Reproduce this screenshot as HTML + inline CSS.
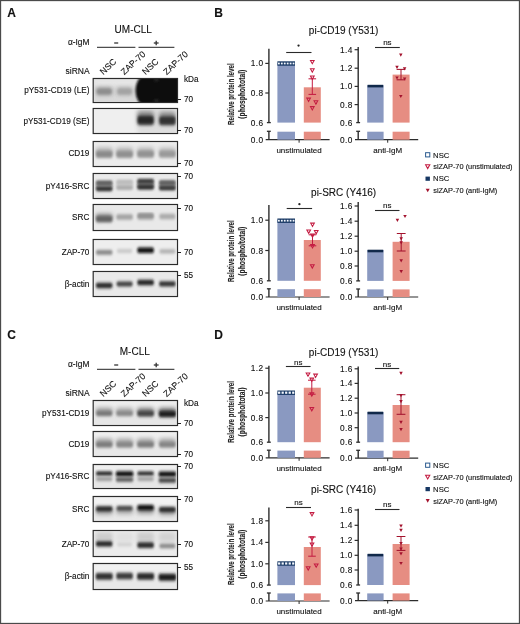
<!DOCTYPE html><html><head><meta charset="utf-8"><style>html,body{margin:0;padding:0;background:#fff;}body{width:520px;height:624px;overflow:hidden;font-family:"Liberation Sans",sans-serif;}svg{display:block;filter:blur(0.25px);}text{opacity:0.999;stroke:#111;stroke-width:0.12px;paint-order:stroke}</style></head><body><svg width="520" height="624" viewBox="0 0 520 624" font-family="Liberation Sans, sans-serif">
<defs><filter id="blur" x="-20%" y="-60%" width="140%" height="220%"><feGaussianBlur stdDeviation="0.9 1.4"/></filter><filter id="blur2" x="-50%" y="-80%" width="200%" height="260%"><feGaussianBlur stdDeviation="2.0"/></filter></defs>
<rect x="0" y="0" width="520" height="624" fill="#fff"/>
<text x="7.2" y="17.4" font-size="12" text-anchor="start" font-weight="bold" fill="#111" stroke="none">A</text>
<text x="214.2" y="17.4" font-size="12" text-anchor="start" font-weight="bold" fill="#111" stroke="none">B</text>
<text x="7.2" y="339.4" font-size="12" text-anchor="start" font-weight="bold" fill="#111" stroke="none">C</text>
<text x="214.2" y="339.4" font-size="12" text-anchor="start" font-weight="bold" fill="#111" stroke="none">D</text>
<text x="133.2" y="33" font-size="10" text-anchor="middle" font-weight="normal" fill="#111" >UM-CLL</text>
<text x="89.5" y="45.4" font-size="8.4" text-anchor="end" font-weight="normal" fill="#111" >&#945;-IgM</text>
<line x1="97" y1="47.3" x2="135.4" y2="47.3" stroke="#222" stroke-width="1"/>
<line x1="138.5" y1="47.3" x2="174.4" y2="47.3" stroke="#222" stroke-width="1"/>
<line x1="114.2" y1="43.0" x2="118.2" y2="43.0" stroke="#333" stroke-width="1.3"/>
<line x1="153.8" y1="43.0" x2="158.6" y2="43.0" stroke="#333" stroke-width="1.3"/>
<line x1="156.2" y1="40.7" x2="156.2" y2="45.3" stroke="#333" stroke-width="1.3"/>
<text x="89.6" y="74" font-size="8.5" text-anchor="end" font-weight="normal" fill="#111" >siRNA</text>
<text x="0" y="0" font-size="8.8" fill="#111" transform="translate(103.3,75.2) rotate(-43)">NSC</text>
<text x="0" y="0" font-size="8.8" fill="#111" transform="translate(124.3,75.2) rotate(-43)">ZAP-70</text>
<text x="0" y="0" font-size="8.8" fill="#111" transform="translate(145.5,75.2) rotate(-43)">NSC</text>
<text x="0" y="0" font-size="8.8" fill="#111" transform="translate(166.7,75.2) rotate(-43)">ZAP-70</text>
<rect x="93.2" y="78.5" width="84.3" height="24" fill="#fbfbfb"/>
<clipPath id="bc1"><rect x="94.2" y="79.5" width="82.3" height="22"/></clipPath>
<g clip-path="url(#bc1)">
<rect x="92.7" y="78" width="85.3" height="25" fill="#d9d9d9"/>
<rect x="92.7" y="78" width="85.3" height="8.75" fill="#e6e6e6" filter="url(#blur2)"/>
<rect x="96.15" y="87.30" width="16.10" height="8" rx="1.80" fill="#a0a0a0" opacity="1" filter="url(#blur2)"/>
<rect x="116.80" y="87.30" width="15.60" height="8" rx="1.80" fill="#b0b0b0" opacity="1" filter="url(#blur2)"/>
<rect x="96.90" y="89.00" width="14.60" height="5" rx="1.80" fill="#8c8c8c" opacity="1" filter="url(#blur)"/>
<rect x="117.55" y="89.00" width="14.10" height="5" rx="1.80" fill="#a2a2a2" opacity="1" filter="url(#blur)"/>

</g>
<clipPath id="bc1f"><rect x="93.2" y="78.5" width="84.3" height="24"/></clipPath>
<g clip-path="url(#bc1f)"><g filter="url(#blur)"><rect x="141" y="74" width="42" height="33" fill="#0a0a0c"/><ellipse cx="144.5" cy="90.5" rx="9" ry="15" fill="#0a0a0c"/></g><ellipse cx="156.4" cy="79.5" rx="2.5" ry="1.3" fill="#333" filter="url(#blur)"/><ellipse cx="156.4" cy="101" rx="2.5" ry="1.3" fill="#333" filter="url(#blur)"/></g>
<rect x="93.2" y="78.5" width="84.3" height="24" fill="none" stroke="#2b2b2b" stroke-width="1.2"/>
<text x="89.4" y="93.3" font-size="8.2" text-anchor="end" font-weight="normal" fill="#111" >pY531-CD19 (LE)</text>
<text x="184" y="82" font-size="8.2" text-anchor="start" font-weight="normal" fill="#111" >kDa</text>
<line x1="177.5" y1="99.5" x2="181" y2="99.5" stroke="#222" stroke-width="1"/>
<text x="184" y="102" font-size="8.2" text-anchor="start" font-weight="normal" fill="#111" >70</text>
<rect x="93.2" y="108.5" width="84.3" height="25" fill="#fbfbfb"/>
<clipPath id="bc2"><rect x="94.2" y="109.5" width="82.3" height="23"/></clipPath>
<g clip-path="url(#bc2)">
<rect x="92.7" y="108" width="85.3" height="26" fill="#efefef"/>
<rect x="137.50" y="106.00" width="40.00" height="30" rx="1.80" fill="#dedede" opacity="1" filter="url(#blur2)"/>
<rect x="137.55" y="111.50" width="16.10" height="13" rx="1.80" fill="#808080" opacity="1" filter="url(#blur2)"/>
<rect x="159.35" y="112.00" width="16.10" height="13" rx="1.80" fill="#8a8a8a" opacity="1" filter="url(#blur2)"/>
<rect x="137.55" y="116.10" width="16.10" height="8.4" rx="1.80" fill="#262626" opacity="1" filter="url(#blur)"/>
<rect x="159.35" y="116.40" width="16.10" height="8.4" rx="1.80" fill="#333333" opacity="1" filter="url(#blur)"/>

</g>
<rect x="93.2" y="108.5" width="84.3" height="25" fill="none" stroke="#2b2b2b" stroke-width="1.2"/>
<text x="89.4" y="123.8" font-size="8.2" text-anchor="end" font-weight="normal" fill="#111" >pY531-CD19 (SE)</text>
<line x1="177.5" y1="130.5" x2="181" y2="130.5" stroke="#222" stroke-width="1"/>
<text x="184" y="133" font-size="8.2" text-anchor="start" font-weight="normal" fill="#111" >70</text>
<rect x="93.2" y="141.5" width="84.3" height="25" fill="#fbfbfb"/>
<clipPath id="bc3"><rect x="94.2" y="142.5" width="82.3" height="23"/></clipPath>
<g clip-path="url(#bc3)">
<rect x="92.7" y="141" width="85.3" height="26" fill="#ececec"/>
<rect x="95.90" y="147.00" width="16.60" height="9" rx="1.80" fill="#bcbcbc" opacity="1" filter="url(#blur2)"/>
<rect x="116.30" y="147.00" width="16.60" height="9" rx="1.80" fill="#bebebe" opacity="1" filter="url(#blur2)"/>
<rect x="137.30" y="147.00" width="16.60" height="9" rx="1.80" fill="#c0c0c0" opacity="1" filter="url(#blur2)"/>
<rect x="159.10" y="147.00" width="16.60" height="9" rx="1.80" fill="#c4c4c4" opacity="1" filter="url(#blur2)"/>
<rect x="95.90" y="150.80" width="16.60" height="7" rx="1.80" fill="#8a8a8a" opacity="1" filter="url(#blur)"/>
<rect x="116.30" y="150.80" width="16.60" height="7" rx="1.80" fill="#909090" opacity="1" filter="url(#blur)"/>
<rect x="137.30" y="150.60" width="16.60" height="7" rx="1.80" fill="#929292" opacity="1" filter="url(#blur)"/>
<rect x="159.10" y="150.60" width="16.60" height="7" rx="1.80" fill="#999999" opacity="1" filter="url(#blur)"/>

</g>
<rect x="93.2" y="141.5" width="84.3" height="25" fill="none" stroke="#2b2b2b" stroke-width="1.2"/>
<text x="89.4" y="156.3" font-size="8.2" text-anchor="end" font-weight="normal" fill="#111" >CD19</text>
<line x1="177.5" y1="163.5" x2="181" y2="163.5" stroke="#222" stroke-width="1"/>
<text x="184" y="166" font-size="8.2" text-anchor="start" font-weight="normal" fill="#111" >70</text>
<rect x="93.2" y="173.5" width="84.3" height="25" fill="#fbfbfb"/>
<clipPath id="bc4"><rect x="94.2" y="174.5" width="82.3" height="23"/></clipPath>
<g clip-path="url(#bc4)">
<rect x="92.7" y="173" width="85.3" height="26" fill="#eaeaea"/>
<rect x="95.90" y="181.30" width="16.60" height="9" rx="1.80" fill="#9a9a9a" opacity="1" filter="url(#blur)"/>
<rect x="137.30" y="179.70" width="16.60" height="9" rx="1.80" fill="#7a7a7a" opacity="1" filter="url(#blur)"/>
<rect x="159.10" y="180.70" width="16.60" height="9" rx="1.80" fill="#8a8a8a" opacity="1" filter="url(#blur)"/>
<rect x="116.30" y="180.30" width="16.60" height="9" rx="1.80" fill="#cfcfcf" opacity="1" filter="url(#blur)"/>
<rect x="95.90" y="181.10" width="16.60" height="3.6" rx="1.80" fill="#555" opacity="1" filter="url(#blur)"/>
<rect x="95.90" y="186.70" width="16.60" height="4.2" rx="1.80" fill="#2a2a2a" opacity="1" filter="url(#blur)"/>
<rect x="116.30" y="180.30" width="16.60" height="3.4" rx="1.70" fill="#b8b8b8" opacity="1" filter="url(#blur)"/>
<rect x="116.30" y="185.70" width="16.60" height="3.8" rx="1.80" fill="#a6a6a6" opacity="1" filter="url(#blur)"/>
<rect x="137.30" y="179.30" width="16.60" height="3.8" rx="1.80" fill="#333" opacity="1" filter="url(#blur)"/>
<rect x="137.30" y="185.00" width="16.60" height="4.2" rx="1.80" fill="#2a2a2a" opacity="1" filter="url(#blur)"/>
<rect x="159.10" y="180.70" width="16.60" height="3.6" rx="1.80" fill="#555" opacity="1" filter="url(#blur)"/>
<rect x="159.10" y="185.90" width="16.60" height="4.2" rx="1.80" fill="#333" opacity="1" filter="url(#blur)"/>

</g>
<rect x="93.2" y="173.5" width="84.3" height="25" fill="none" stroke="#2b2b2b" stroke-width="1.2"/>
<text x="89.4" y="188.8" font-size="8.2" text-anchor="end" font-weight="normal" fill="#111" >pY416-SRC</text>
<line x1="177.5" y1="176.5" x2="181" y2="176.5" stroke="#222" stroke-width="1"/>
<text x="184" y="179" font-size="8.2" text-anchor="start" font-weight="normal" fill="#111" >70</text>
<rect x="93.2" y="204.5" width="84.3" height="26" fill="#fbfbfb"/>
<clipPath id="bc5"><rect x="94.2" y="205.5" width="82.3" height="24"/></clipPath>
<g clip-path="url(#bc5)">
<rect x="92.7" y="204" width="85.3" height="27" fill="#e9e9e9"/>
<rect x="95.90" y="213.50" width="16.60" height="6" rx="1.80" fill="#9a9a9a" opacity="1" filter="url(#blur2)"/>
<rect x="95.90" y="215.75" width="16.60" height="6.5" rx="1.80" fill="#626262" opacity="1" filter="url(#blur)"/>
<rect x="116.30" y="214.25" width="16.60" height="5.5" rx="1.80" fill="#a3a3a3" opacity="1" filter="url(#blur)"/>
<rect x="137.30" y="213.50" width="16.60" height="6" rx="1.80" fill="#999" opacity="1" filter="url(#blur)"/>
<rect x="137.80" y="213.75" width="15.60" height="2.5" rx="1.25" fill="#8a8a8a" opacity="1" filter="url(#blur)"/>
<rect x="159.35" y="213.75" width="16.10" height="5.5" rx="1.80" fill="#aaa" opacity="1" filter="url(#blur)"/>

</g>
<rect x="93.2" y="204.5" width="84.3" height="26" fill="none" stroke="#2b2b2b" stroke-width="1.2"/>
<text x="89.4" y="220.3" font-size="8.2" text-anchor="end" font-weight="normal" fill="#111" >SRC</text>
<line x1="177.5" y1="208.5" x2="181" y2="208.5" stroke="#222" stroke-width="1"/>
<text x="184" y="210.7" font-size="8.2" text-anchor="start" font-weight="normal" fill="#111" >70</text>
<rect x="93.2" y="239.5" width="84.3" height="25" fill="#fbfbfb"/>
<clipPath id="bc6"><rect x="94.2" y="240.5" width="82.3" height="23"/></clipPath>
<g clip-path="url(#bc6)">
<rect x="92.7" y="239" width="85.3" height="26" fill="#eeeeee"/>
<rect x="95.90" y="250.10" width="16.60" height="4.6" rx="1.80" fill="#888" opacity="1" filter="url(#blur)"/>
<rect x="116.80" y="248.90" width="15.60" height="4" rx="1.80" fill="#c8c8c8" opacity="1" filter="url(#blur)"/>
<rect x="137.30" y="247.55" width="16.60" height="5.5" rx="1.80" fill="#0a0a0a" opacity="1" filter="url(#blur)"/>
<rect x="159.35" y="249.30" width="16.10" height="4.2" rx="1.80" fill="#b0b0b0" opacity="1" filter="url(#blur)"/>

</g>
<rect x="93.2" y="239.5" width="84.3" height="25" fill="none" stroke="#2b2b2b" stroke-width="1.2"/>
<text x="89.4" y="254.8" font-size="8.2" text-anchor="end" font-weight="normal" fill="#111" >ZAP-70</text>
<line x1="177.5" y1="252.5" x2="181" y2="252.5" stroke="#222" stroke-width="1"/>
<text x="184" y="254.5" font-size="8.2" text-anchor="start" font-weight="normal" fill="#111" >70</text>
<rect x="93.2" y="271.5" width="84.3" height="25" fill="#fbfbfb"/>
<clipPath id="bc7"><rect x="94.2" y="272.5" width="82.3" height="23"/></clipPath>
<g clip-path="url(#bc7)">
<rect x="92.7" y="271" width="85.3" height="26" fill="#e9e9e9"/>
<rect x="95.90" y="282.65" width="16.60" height="5.5" rx="1.80" fill="#2a2a2a" opacity="1" filter="url(#blur)"/>
<rect x="116.55" y="281.40" width="16.10" height="5" rx="1.80" fill="#3c3c3c" opacity="1" filter="url(#blur)"/>
<rect x="137.30" y="279.85" width="16.60" height="5.5" rx="1.80" fill="#222" opacity="1" filter="url(#blur)"/>
<rect x="159.10" y="281.30" width="16.60" height="5.2" rx="1.80" fill="#333" opacity="1" filter="url(#blur)"/>

</g>
<rect x="93.2" y="271.5" width="84.3" height="25" fill="none" stroke="#2b2b2b" stroke-width="1.2"/>
<text x="89.4" y="287.3" font-size="8.2" text-anchor="end" font-weight="normal" fill="#111" >&#946;-actin</text>
<line x1="177.5" y1="275.5" x2="181" y2="275.5" stroke="#222" stroke-width="1"/>
<text x="184" y="277.6" font-size="8.2" text-anchor="start" font-weight="normal" fill="#111" >55</text>
<text x="134.8" y="354.5" font-size="10" text-anchor="middle" font-weight="normal" fill="#111" >M-CLL</text>
<text x="89.5" y="367.40000000000003" font-size="8.4" text-anchor="end" font-weight="normal" fill="#111" >&#945;-IgM</text>
<line x1="97" y1="369.3" x2="135.4" y2="369.3" stroke="#222" stroke-width="1"/>
<line x1="138.5" y1="369.3" x2="174.4" y2="369.3" stroke="#222" stroke-width="1"/>
<line x1="114.2" y1="365.0" x2="118.2" y2="365.0" stroke="#333" stroke-width="1.3"/>
<line x1="153.8" y1="365.0" x2="158.6" y2="365.0" stroke="#333" stroke-width="1.3"/>
<line x1="156.2" y1="362.7" x2="156.2" y2="367.3" stroke="#333" stroke-width="1.3"/>
<text x="89.6" y="396" font-size="8.5" text-anchor="end" font-weight="normal" fill="#111" >siRNA</text>
<text x="0" y="0" font-size="8.8" fill="#111" transform="translate(103.3,397.2) rotate(-43)">NSC</text>
<text x="0" y="0" font-size="8.8" fill="#111" transform="translate(124.3,397.2) rotate(-43)">ZAP-70</text>
<text x="0" y="0" font-size="8.8" fill="#111" transform="translate(145.5,397.2) rotate(-43)">NSC</text>
<text x="0" y="0" font-size="8.8" fill="#111" transform="translate(166.7,397.2) rotate(-43)">ZAP-70</text>
<rect x="93.2" y="400.5" width="84.3" height="25" fill="#fbfbfb"/>
<clipPath id="bc8"><rect x="94.2" y="401.5" width="82.3" height="23"/></clipPath>
<g clip-path="url(#bc8)">
<rect x="92.7" y="400" width="85.3" height="26" fill="#e6e6e6"/>
<rect x="92.7" y="400" width="85.3" height="9.10" fill="#efefef" filter="url(#blur2)"/>
<rect x="95.90" y="407.00" width="16.60" height="7" rx="1.80" fill="#b4b4b4" opacity="1" filter="url(#blur2)"/>
<rect x="116.30" y="407.00" width="16.60" height="7" rx="1.80" fill="#bcbcbc" opacity="1" filter="url(#blur2)"/>
<rect x="137.30" y="407.30" width="16.60" height="7" rx="1.80" fill="#999" opacity="1" filter="url(#blur2)"/>
<rect x="158.85" y="407.50" width="17.10" height="7" rx="1.80" fill="#888" opacity="1" filter="url(#blur2)"/>
<rect x="96.15" y="410.45" width="16.10" height="5.5" rx="1.80" fill="#777" opacity="1" filter="url(#blur)"/>
<rect x="116.30" y="410.45" width="16.60" height="5.5" rx="1.80" fill="#888" opacity="1" filter="url(#blur)"/>
<rect x="137.30" y="410.60" width="16.60" height="6" rx="1.80" fill="#444" opacity="1" filter="url(#blur)"/>
<rect x="158.85" y="410.85" width="17.10" height="6.5" rx="1.80" fill="#1a1a1a" opacity="1" filter="url(#blur)"/>

</g>
<rect x="93.2" y="400.5" width="84.3" height="25" fill="none" stroke="#2b2b2b" stroke-width="1.2"/>
<text x="89.4" y="415.8" font-size="8.2" text-anchor="end" font-weight="normal" fill="#111" >pY531-CD19</text>
<text x="184" y="406" font-size="8.2" text-anchor="start" font-weight="normal" fill="#111" >kDa</text>
<line x1="177.5" y1="423.5" x2="181" y2="423.5" stroke="#222" stroke-width="1"/>
<text x="184" y="425.6" font-size="8.2" text-anchor="start" font-weight="normal" fill="#111" >70</text>
<rect x="93.2" y="431.5" width="84.3" height="25" fill="#fbfbfb"/>
<clipPath id="bc9"><rect x="94.2" y="432.5" width="82.3" height="23"/></clipPath>
<g clip-path="url(#bc9)">
<rect x="92.7" y="431" width="85.3" height="26" fill="#e8e8e8"/>
<rect x="92.7" y="431" width="85.3" height="9.10" fill="#f0f0f0" filter="url(#blur2)"/>
<rect x="95.90" y="438.00" width="16.60" height="7" rx="1.80" fill="#b0b0b0" opacity="1" filter="url(#blur2)"/>
<rect x="116.30" y="438.00" width="16.60" height="7" rx="1.80" fill="#b6b6b6" opacity="1" filter="url(#blur2)"/>
<rect x="137.30" y="438.00" width="16.60" height="7" rx="1.80" fill="#b0b0b0" opacity="1" filter="url(#blur2)"/>
<rect x="159.10" y="438.00" width="16.60" height="7" rx="1.80" fill="#b6b6b6" opacity="1" filter="url(#blur2)"/>
<rect x="95.90" y="441.60" width="16.60" height="6" rx="1.80" fill="#7c7c7c" opacity="1" filter="url(#blur)"/>
<rect x="116.30" y="441.60" width="16.60" height="6" rx="1.80" fill="#868686" opacity="1" filter="url(#blur)"/>
<rect x="137.30" y="441.60" width="16.60" height="6" rx="1.80" fill="#7c7c7c" opacity="1" filter="url(#blur)"/>
<rect x="159.10" y="441.60" width="16.60" height="6" rx="1.80" fill="#848484" opacity="1" filter="url(#blur)"/>

</g>
<rect x="93.2" y="431.5" width="84.3" height="25" fill="none" stroke="#2b2b2b" stroke-width="1.2"/>
<text x="89.4" y="447.3" font-size="8.2" text-anchor="end" font-weight="normal" fill="#111" >CD19</text>
<line x1="177.5" y1="454.5" x2="181" y2="454.5" stroke="#222" stroke-width="1"/>
<text x="184" y="457" font-size="8.2" text-anchor="start" font-weight="normal" fill="#111" >70</text>
<rect x="93.2" y="464.5" width="84.3" height="24" fill="#fbfbfb"/>
<clipPath id="bc10"><rect x="94.2" y="465.5" width="82.3" height="22"/></clipPath>
<g clip-path="url(#bc10)">
<rect x="92.7" y="464" width="85.3" height="25" fill="#e6e6e6"/>
<rect x="92.7" y="464" width="85.3" height="8.75" fill="#f0f0f0" filter="url(#blur2)"/>
<rect x="95.90" y="471.50" width="16.60" height="4" rx="1.80" fill="#1a1a1a" opacity="1" filter="url(#blur)"/>
<rect x="95.90" y="477.10" width="16.60" height="3.8" rx="1.80" fill="#9a9a9a" opacity="1" filter="url(#blur)"/>
<rect x="115.80" y="471.30" width="17.60" height="5.2" rx="1.80" fill="#111" opacity="1" filter="url(#blur)"/>
<rect x="115.80" y="477.40" width="17.60" height="4.4" rx="1.80" fill="#555" opacity="1" filter="url(#blur)"/>
<rect x="137.30" y="471.50" width="16.60" height="4" rx="1.80" fill="#222" opacity="1" filter="url(#blur)"/>
<rect x="137.30" y="477.10" width="16.60" height="3.8" rx="1.80" fill="#a0a0a0" opacity="1" filter="url(#blur)"/>
<rect x="158.60" y="471.60" width="17.60" height="5.2" rx="1.80" fill="#111" opacity="1" filter="url(#blur)"/>
<rect x="158.60" y="477.90" width="17.60" height="4.8" rx="1.80" fill="#444" opacity="1" filter="url(#blur)"/>

</g>
<rect x="93.2" y="464.5" width="84.3" height="24" fill="none" stroke="#2b2b2b" stroke-width="1.2"/>
<text x="89.4" y="479.3" font-size="8.2" text-anchor="end" font-weight="normal" fill="#111" >pY416-SRC</text>
<line x1="177.5" y1="466.5" x2="181" y2="466.5" stroke="#222" stroke-width="1"/>
<text x="184" y="469.4" font-size="8.2" text-anchor="start" font-weight="normal" fill="#111" >70</text>
<rect x="93.2" y="496.5" width="84.3" height="25" fill="#fbfbfb"/>
<clipPath id="bc11"><rect x="94.2" y="497.5" width="82.3" height="23"/></clipPath>
<g clip-path="url(#bc11)">
<rect x="92.7" y="496" width="85.3" height="26" fill="#e9e9e9"/>
<rect x="92.7" y="496" width="85.3" height="9.10" fill="#f2f2f2" filter="url(#blur2)"/>
<rect x="95.90" y="508.00" width="16.60" height="7" rx="1.80" fill="#aaa" opacity="1" filter="url(#blur2)"/>
<rect x="116.30" y="507.50" width="16.60" height="7" rx="1.80" fill="#b4b4b4" opacity="1" filter="url(#blur2)"/>
<rect x="137.30" y="507.00" width="16.60" height="7" rx="1.80" fill="#999" opacity="1" filter="url(#blur2)"/>
<rect x="159.10" y="508.50" width="16.60" height="7" rx="1.80" fill="#aaa" opacity="1" filter="url(#blur2)"/>
<rect x="95.90" y="506.30" width="16.60" height="5.2" rx="1.80" fill="#2a2a2a" opacity="1" filter="url(#blur)"/>
<rect x="116.55" y="506.00" width="16.10" height="4.8" rx="1.80" fill="#484848" opacity="1" filter="url(#blur)"/>
<rect x="137.30" y="505.00" width="16.60" height="5.2" rx="1.80" fill="#111" opacity="1" filter="url(#blur)"/>
<rect x="159.10" y="507.00" width="16.60" height="5.2" rx="1.80" fill="#2a2a2a" opacity="1" filter="url(#blur)"/>

</g>
<rect x="93.2" y="496.5" width="84.3" height="25" fill="none" stroke="#2b2b2b" stroke-width="1.2"/>
<text x="89.4" y="511.8" font-size="8.2" text-anchor="end" font-weight="normal" fill="#111" >SRC</text>
<line x1="177.5" y1="499.5" x2="181" y2="499.5" stroke="#222" stroke-width="1"/>
<text x="184" y="501.75" font-size="8.2" text-anchor="start" font-weight="normal" fill="#111" >70</text>
<rect x="93.2" y="530.5" width="84.3" height="26" fill="#fbfbfb"/>
<clipPath id="bc12"><rect x="94.2" y="531.5" width="82.3" height="24"/></clipPath>
<g clip-path="url(#bc12)">
<rect x="92.7" y="530" width="85.3" height="27" fill="#ececec"/>
<rect x="95.40" y="532.00" width="17.60" height="10" rx="1.80" fill="#cdcdcd" opacity="1" filter="url(#blur2)"/>
<rect x="136.80" y="532.00" width="17.60" height="10" rx="1.80" fill="#cdcdcd" opacity="1" filter="url(#blur2)"/>
<rect x="158.60" y="532.00" width="17.60" height="10" rx="1.80" fill="#d2d2d2" opacity="1" filter="url(#blur2)"/>
<rect x="115.80" y="532.00" width="17.60" height="10" rx="1.80" fill="#e0e0e0" opacity="1" filter="url(#blur2)"/>
<rect x="95.90" y="541.30" width="16.60" height="5.2" rx="1.80" fill="#222" opacity="1" filter="url(#blur)"/>
<rect x="117.05" y="542.70" width="15.10" height="3.6" rx="1.80" fill="#d0d0d0" opacity="1" filter="url(#blur)"/>
<rect x="137.30" y="542.20" width="16.60" height="5.8" rx="1.80" fill="#2a2a2a" opacity="1" filter="url(#blur)"/>
<rect x="159.35" y="543.70" width="16.10" height="4.6" rx="1.80" fill="#888" opacity="1" filter="url(#blur)"/>

</g>
<rect x="93.2" y="530.5" width="84.3" height="26" fill="none" stroke="#2b2b2b" stroke-width="1.2"/>
<text x="89.4" y="546.6999999999999" font-size="8.2" text-anchor="end" font-weight="normal" fill="#111" >ZAP-70</text>
<line x1="177.5" y1="544.5" x2="181" y2="544.5" stroke="#222" stroke-width="1"/>
<text x="184" y="546.75" font-size="8.2" text-anchor="start" font-weight="normal" fill="#111" >70</text>
<rect x="93.2" y="563.5" width="84.3" height="26" fill="#fbfbfb"/>
<clipPath id="bc13"><rect x="94.2" y="564.5" width="82.3" height="24"/></clipPath>
<g clip-path="url(#bc13)">
<rect x="92.7" y="563" width="85.3" height="27" fill="#e8e8e8"/>
<rect x="92.7" y="563" width="85.3" height="9.45" fill="#f1f1f1" filter="url(#blur2)"/>
<rect x="95.65" y="573.00" width="17.10" height="6.8" rx="1.80" fill="#333" opacity="1" filter="url(#blur)"/>
<rect x="116.30" y="572.75" width="16.60" height="6.5" rx="1.80" fill="#3a3a3a" opacity="1" filter="url(#blur)"/>
<rect x="137.05" y="573.00" width="17.10" height="6.8" rx="1.80" fill="#2a2a2a" opacity="1" filter="url(#blur)"/>
<rect x="158.60" y="573.80" width="17.60" height="7" rx="1.80" fill="#1a1a1a" opacity="1" filter="url(#blur)"/>

</g>
<rect x="93.2" y="563.5" width="84.3" height="26" fill="none" stroke="#2b2b2b" stroke-width="1.2"/>
<text x="89.4" y="579.4" font-size="8.2" text-anchor="end" font-weight="normal" fill="#111" >&#946;-actin</text>
<line x1="177.5" y1="567.5" x2="181" y2="567.5" stroke="#222" stroke-width="1"/>
<text x="184" y="569.75" font-size="8.2" text-anchor="start" font-weight="normal" fill="#111" >55</text>
<text x="343.6" y="33.5" font-size="10" text-anchor="middle" font-weight="normal" fill="#111" >pi-CD19 (Y531)</text>
<g transform="translate(234.0,94.2) rotate(-90)"><text x="0" y="0" font-size="9" font-weight="bold" text-anchor="middle" fill="#222" stroke="none" transform="scale(0.685,1)">Relative protein level</text><text x="0" y="11" font-size="9" font-weight="bold" text-anchor="middle" fill="#222" stroke="none" transform="scale(0.75,1)">(phospho/total)</text></g>
<line x1="268.9" y1="48.8" x2="268.9" y2="122.6" stroke="#2c2c2c" stroke-width="1.4"/>
<line x1="265.29999999999995" y1="63.4" x2="268.9" y2="63.4" stroke="#2c2c2c" stroke-width="1.2"/>
<text x="263.4" y="66.4" font-size="8.3" text-anchor="end" font-weight="normal" fill="#111" letter-spacing="0.35">1.0</text>
<line x1="265.29999999999995" y1="93.0" x2="268.9" y2="93.0" stroke="#2c2c2c" stroke-width="1.2"/>
<text x="263.4" y="96.0" font-size="8.3" text-anchor="end" font-weight="normal" fill="#111" letter-spacing="0.35">0.8</text>
<line x1="266.9" y1="122.6" x2="270.79999999999995" y2="122.6" stroke="#2c2c2c" stroke-width="1.3"/>
<text x="263.4" y="125.6" font-size="8.3" text-anchor="end" font-weight="normal" fill="#111" letter-spacing="0.35">0.6</text>
<line x1="268.9" y1="131.3" x2="268.9" y2="139.7" stroke="#2c2c2c" stroke-width="1.4"/>
<line x1="266.9" y1="131.3" x2="270.79999999999995" y2="131.3" stroke="#2c2c2c" stroke-width="1.3"/>
<line x1="265.7" y1="139.7" x2="329.6" y2="139.7" stroke="#2c2c2c" stroke-width="1.2"/>
<text x="263.4" y="142.7" font-size="8.3" text-anchor="end" font-weight="normal" fill="#111" letter-spacing="0.35">0.0</text>
<rect x="277.4" y="63.4" width="17.600000000000023" height="59.199999999999996" fill="#8a99c1" />
<rect x="277.4" y="131.70000000000002" width="17.600000000000023" height="7.999999999999977" fill="#8a99c1" />
<rect x="303.8" y="87.3" width="17.0" height="35.3" fill="#e68d82" />
<rect x="303.8" y="131.70000000000002" width="17.0" height="7.999999999999977" fill="#e68d82" />
<line x1="299.1" y1="139.7" x2="299.1" y2="142.7" stroke="#2c2c2c" stroke-width="1"/>
<text x="299.1" y="152.89999999999998" font-size="8" text-anchor="middle" font-weight="normal" fill="#111" >unstimulated</text>
<rect x="277.4" y="61.3" width="17.600000000000023" height="4.4" fill="#163763"/>
<rect x="277.97" y="62.60" width="1.8" height="1.8" fill="#f4f8ff"/>
<rect x="280.90" y="62.60" width="1.8" height="1.8" fill="#f4f8ff"/>
<rect x="283.83" y="62.60" width="1.8" height="1.8" fill="#f4f8ff"/>
<rect x="286.77" y="62.60" width="1.8" height="1.8" fill="#f4f8ff"/>
<rect x="289.70" y="62.60" width="1.8" height="1.8" fill="#f4f8ff"/>
<rect x="292.63" y="62.60" width="1.8" height="1.8" fill="#f4f8ff"/>
<line x1="312.3" y1="78.8" x2="312.3" y2="94.4" stroke="#c41c42" stroke-width="1.0"/>
<line x1="308.5" y1="78.8" x2="316.1" y2="78.8" stroke="#c41c42" stroke-width="1.05"/>
<line x1="308.5" y1="94.4" x2="316.1" y2="94.4" stroke="#c41c42" stroke-width="1.05"/>
<polygon points="310.45,60.44 314.15,60.44 312.30,63.77" fill="none" stroke="#c41c42" stroke-width="1.05" stroke-linejoin="miter"/>
<polygon points="310.45,68.83 314.15,68.83 312.30,72.17" fill="none" stroke="#c41c42" stroke-width="1.05" stroke-linejoin="miter"/>
<polygon points="310.45,76.03 314.15,76.03 312.30,79.37" fill="none" stroke="#c41c42" stroke-width="1.05" stroke-linejoin="miter"/>
<polygon points="306.75,98.13 310.45,98.13 308.60,101.47" fill="none" stroke="#c41c42" stroke-width="1.05" stroke-linejoin="miter"/>
<polygon points="314.05,100.83 317.75,100.83 315.90,104.17" fill="none" stroke="#c41c42" stroke-width="1.05" stroke-linejoin="miter"/>
<polygon points="310.45,106.63 314.15,106.63 312.30,109.97" fill="none" stroke="#c41c42" stroke-width="1.05" stroke-linejoin="miter"/>
<line x1="286.2" y1="52.5" x2="311.5" y2="52.5" stroke="#2a2a2a" stroke-width="1.1"/>
<circle cx="298.55" cy="45.60" r="1.15" fill="#222"/>
<line x1="358.2" y1="47" x2="358.2" y2="122.6" stroke="#2c2c2c" stroke-width="1.4"/>
<line x1="354.59999999999997" y1="49.7" x2="358.2" y2="49.7" stroke="#2c2c2c" stroke-width="1.2"/>
<text x="352.7" y="52.7" font-size="8.3" text-anchor="end" font-weight="normal" fill="#111" letter-spacing="0.35">1.4</text>
<line x1="354.59999999999997" y1="68.2" x2="358.2" y2="68.2" stroke="#2c2c2c" stroke-width="1.2"/>
<text x="352.7" y="71.2" font-size="8.3" text-anchor="end" font-weight="normal" fill="#111" letter-spacing="0.35">1.2</text>
<line x1="354.59999999999997" y1="86.4" x2="358.2" y2="86.4" stroke="#2c2c2c" stroke-width="1.2"/>
<text x="352.7" y="89.4" font-size="8.3" text-anchor="end" font-weight="normal" fill="#111" letter-spacing="0.35">1.0</text>
<line x1="354.59999999999997" y1="104.6" x2="358.2" y2="104.6" stroke="#2c2c2c" stroke-width="1.2"/>
<text x="352.7" y="107.6" font-size="8.3" text-anchor="end" font-weight="normal" fill="#111" letter-spacing="0.35">0.8</text>
<line x1="356.2" y1="122.6" x2="360.09999999999997" y2="122.6" stroke="#2c2c2c" stroke-width="1.3"/>
<text x="352.7" y="125.6" font-size="8.3" text-anchor="end" font-weight="normal" fill="#111" letter-spacing="0.35">0.6</text>
<line x1="358.2" y1="131.3" x2="358.2" y2="139.7" stroke="#2c2c2c" stroke-width="1.4"/>
<line x1="356.2" y1="131.3" x2="360.09999999999997" y2="131.3" stroke="#2c2c2c" stroke-width="1.3"/>
<line x1="355.0" y1="139.7" x2="418.2" y2="139.7" stroke="#2c2c2c" stroke-width="1.2"/>
<text x="352.7" y="142.7" font-size="8.3" text-anchor="end" font-weight="normal" fill="#111" letter-spacing="0.35">0.0</text>
<rect x="367.2" y="85.2" width="16.400000000000034" height="37.39999999999999" fill="#8a99c1" />
<rect x="367.2" y="131.70000000000002" width="16.400000000000034" height="7.999999999999977" fill="#8a99c1" />
<rect x="392.6" y="74.6" width="17.0" height="48.0" fill="#e68d82" />
<rect x="392.6" y="131.70000000000002" width="17.0" height="7.999999999999977" fill="#e68d82" />
<line x1="387.7" y1="139.7" x2="387.7" y2="142.7" stroke="#2c2c2c" stroke-width="1"/>
<text x="387.7" y="152.89999999999998" font-size="8" text-anchor="middle" font-weight="normal" fill="#111" >anti-IgM</text>
<rect x="367.59999999999997" y="84.8" width="15.600000000000033" height="2.6" fill="#11294a"/>
<line x1="401" y1="69.4" x2="401" y2="79.8" stroke="#a3122d" stroke-width="1.0"/>
<line x1="396.6" y1="69.4" x2="405.4" y2="69.4" stroke="#a3122d" stroke-width="1.05"/>
<line x1="396.6" y1="79.8" x2="405.4" y2="79.8" stroke="#a3122d" stroke-width="1.05"/>
<polygon points="399.05,53.62 402.55,53.62 400.80,56.78" fill="#a3122d"/>
<polygon points="395.25,65.72 398.75,65.72 397.00,68.88" fill="#a3122d"/>
<polygon points="402.85,67.22 406.35,67.22 404.60,70.38" fill="#a3122d"/>
<polygon points="395.25,76.42 398.75,76.42 397.00,79.58" fill="#a3122d"/>
<polygon points="402.85,77.42 406.35,77.42 404.60,80.58" fill="#a3122d"/>
<polygon points="399.05,94.92 402.55,94.92 400.80,98.08" fill="#a3122d"/>
<line x1="375" y1="47.5" x2="399.8" y2="47.5" stroke="#2a2a2a" stroke-width="1.1"/>
<text x="387.4" y="45.099999999999994" font-size="8" text-anchor="middle" font-weight="normal" fill="#111" >ns</text>
<rect x="425.59999999999997" y="152.70000000000002" width="4.2" height="4.2" fill="#fff" stroke="#2a5a8f" stroke-width="1"/>
<text x="433.09999999999997" y="157.60000000000002" font-size="7.6" text-anchor="start" font-weight="normal" fill="#111" textLength="16.2" lengthAdjust="spacingAndGlyphs" stroke="none">NSC</text>
<polygon points="425.60,164.81 429.80,164.81 427.70,168.59" fill="none" stroke="#c41c42" stroke-width="1.05" stroke-linejoin="miter"/>
<text x="433.2" y="169.4" font-size="7.4" text-anchor="start" font-weight="normal" fill="#111" stroke="none">siZAP-70 (unstimulated)</text>
<rect x="425.5" y="176.60000000000002" width="4.4" height="4.2" fill="#163763"/>
<text x="433.09999999999997" y="181.40000000000003" font-size="7.6" text-anchor="start" font-weight="normal" fill="#111" textLength="16.2" lengthAdjust="spacingAndGlyphs" stroke="none">NSC</text>
<polygon points="425.70,188.70 429.70,188.70 427.70,192.30" fill="#a3122d"/>
<text x="433.2" y="193.2" font-size="7.4" text-anchor="start" font-weight="normal" fill="#111" stroke="none">siZAP-70 (anti-IgM)</text>
<text x="343.6" y="196.3" font-size="10" text-anchor="middle" font-weight="normal" fill="#111" >pi-SRC (Y416)</text>
<g transform="translate(234.0,251.2) rotate(-90)"><text x="0" y="0" font-size="9" font-weight="bold" text-anchor="middle" fill="#222" stroke="none" transform="scale(0.685,1)">Relative protein level</text><text x="0" y="11" font-size="9" font-weight="bold" text-anchor="middle" fill="#222" stroke="none" transform="scale(0.75,1)">(phospho/total)</text></g>
<line x1="268.9" y1="205" x2="268.9" y2="280.8" stroke="#2c2c2c" stroke-width="1.4"/>
<line x1="265.29999999999995" y1="220.2" x2="268.9" y2="220.2" stroke="#2c2c2c" stroke-width="1.2"/>
<text x="263.4" y="223.2" font-size="8.3" text-anchor="end" font-weight="normal" fill="#111" letter-spacing="0.35">1.0</text>
<line x1="265.29999999999995" y1="250.5" x2="268.9" y2="250.5" stroke="#2c2c2c" stroke-width="1.2"/>
<text x="263.4" y="253.5" font-size="8.3" text-anchor="end" font-weight="normal" fill="#111" letter-spacing="0.35">0.8</text>
<line x1="266.9" y1="280.8" x2="270.79999999999995" y2="280.8" stroke="#2c2c2c" stroke-width="1.3"/>
<text x="263.4" y="283.8" font-size="8.3" text-anchor="end" font-weight="normal" fill="#111" letter-spacing="0.35">0.6</text>
<line x1="268.9" y1="288.8" x2="268.9" y2="297" stroke="#2c2c2c" stroke-width="1.4"/>
<line x1="266.9" y1="288.8" x2="270.79999999999995" y2="288.8" stroke="#2c2c2c" stroke-width="1.3"/>
<line x1="265.7" y1="297" x2="329.6" y2="297" stroke="#2c2c2c" stroke-width="1.2"/>
<text x="263.4" y="300.0" font-size="8.3" text-anchor="end" font-weight="normal" fill="#111" letter-spacing="0.35">0.0</text>
<rect x="277.4" y="220.2" width="17.600000000000023" height="60.60000000000002" fill="#8a99c1" />
<rect x="277.4" y="289.2" width="17.600000000000023" height="7.799999999999988" fill="#8a99c1" />
<rect x="303.8" y="240" width="17.0" height="40.80000000000001" fill="#e68d82" />
<rect x="303.8" y="289.2" width="17.0" height="7.799999999999988" fill="#e68d82" />
<line x1="299.1" y1="297" x2="299.1" y2="300" stroke="#2c2c2c" stroke-width="1"/>
<text x="299.1" y="310.2" font-size="8" text-anchor="middle" font-weight="normal" fill="#111" >unstimulated</text>
<rect x="277.4" y="218.5" width="17.600000000000023" height="4.4" fill="#163763"/>
<rect x="277.97" y="219.80" width="1.8" height="1.8" fill="#f4f8ff"/>
<rect x="280.90" y="219.80" width="1.8" height="1.8" fill="#f4f8ff"/>
<rect x="283.83" y="219.80" width="1.8" height="1.8" fill="#f4f8ff"/>
<rect x="286.77" y="219.80" width="1.8" height="1.8" fill="#f4f8ff"/>
<rect x="289.70" y="219.80" width="1.8" height="1.8" fill="#f4f8ff"/>
<rect x="292.63" y="219.80" width="1.8" height="1.8" fill="#f4f8ff"/>
<line x1="312.5" y1="234.8" x2="312.5" y2="245.8" stroke="#c41c42" stroke-width="1.0"/>
<line x1="308.7" y1="234.8" x2="316.3" y2="234.8" stroke="#c41c42" stroke-width="1.05"/>
<line x1="308.7" y1="245.8" x2="316.3" y2="245.8" stroke="#c41c42" stroke-width="1.05"/>
<polygon points="310.65,223.14 314.35,223.14 312.50,226.47" fill="none" stroke="#c41c42" stroke-width="1.05" stroke-linejoin="miter"/>
<polygon points="306.85,230.03 310.55,230.03 308.70,233.36" fill="none" stroke="#c41c42" stroke-width="1.05" stroke-linejoin="miter"/>
<polygon points="314.35,230.53 318.05,230.53 316.20,233.86" fill="none" stroke="#c41c42" stroke-width="1.05" stroke-linejoin="miter"/>
<polygon points="310.65,233.94 314.35,233.94 312.50,237.26" fill="none" stroke="#c41c42" stroke-width="1.05" stroke-linejoin="miter"/>
<polygon points="310.65,244.64 314.35,244.64 312.50,247.97" fill="none" stroke="#c41c42" stroke-width="1.05" stroke-linejoin="miter"/>
<polygon points="310.45,264.73 314.15,264.73 312.30,268.06" fill="none" stroke="#c41c42" stroke-width="1.05" stroke-linejoin="miter"/>
<line x1="286.7" y1="208.5" x2="312.1" y2="208.5" stroke="#2a2a2a" stroke-width="1.1"/>
<circle cx="299.40" cy="204.20" r="1.15" fill="#222"/>
<line x1="358.2" y1="202" x2="358.2" y2="280.9" stroke="#2c2c2c" stroke-width="1.4"/>
<line x1="354.59999999999997" y1="206" x2="358.2" y2="206" stroke="#2c2c2c" stroke-width="1.2"/>
<text x="352.7" y="209.0" font-size="8.3" text-anchor="end" font-weight="normal" fill="#111" letter-spacing="0.35">1.6</text>
<line x1="354.59999999999997" y1="221.2" x2="358.2" y2="221.2" stroke="#2c2c2c" stroke-width="1.2"/>
<text x="352.7" y="224.2" font-size="8.3" text-anchor="end" font-weight="normal" fill="#111" letter-spacing="0.35">1.4</text>
<line x1="354.59999999999997" y1="236.2" x2="358.2" y2="236.2" stroke="#2c2c2c" stroke-width="1.2"/>
<text x="352.7" y="239.2" font-size="8.3" text-anchor="end" font-weight="normal" fill="#111" letter-spacing="0.35">1.2</text>
<line x1="354.59999999999997" y1="251.2" x2="358.2" y2="251.2" stroke="#2c2c2c" stroke-width="1.2"/>
<text x="352.7" y="254.2" font-size="8.3" text-anchor="end" font-weight="normal" fill="#111" letter-spacing="0.35">1.0</text>
<line x1="354.59999999999997" y1="266" x2="358.2" y2="266" stroke="#2c2c2c" stroke-width="1.2"/>
<text x="352.7" y="269.0" font-size="8.3" text-anchor="end" font-weight="normal" fill="#111" letter-spacing="0.35">0.8</text>
<line x1="356.2" y1="280.9" x2="360.09999999999997" y2="280.9" stroke="#2c2c2c" stroke-width="1.3"/>
<text x="352.7" y="283.9" font-size="8.3" text-anchor="end" font-weight="normal" fill="#111" letter-spacing="0.35">0.6</text>
<line x1="358.2" y1="289" x2="358.2" y2="297" stroke="#2c2c2c" stroke-width="1.4"/>
<line x1="356.2" y1="289" x2="360.09999999999997" y2="289" stroke="#2c2c2c" stroke-width="1.3"/>
<line x1="355.0" y1="297" x2="418.2" y2="297" stroke="#2c2c2c" stroke-width="1.2"/>
<text x="352.7" y="300.0" font-size="8.3" text-anchor="end" font-weight="normal" fill="#111" letter-spacing="0.35">0.0</text>
<rect x="367.2" y="250" width="16.400000000000034" height="30.899999999999977" fill="#8a99c1" />
<rect x="367.2" y="289.4" width="16.400000000000034" height="7.6" fill="#8a99c1" />
<rect x="392.6" y="241.8" width="17.0" height="39.099999999999966" fill="#e68d82" />
<rect x="392.6" y="289.4" width="17.0" height="7.6" fill="#e68d82" />
<line x1="387.7" y1="297" x2="387.7" y2="300" stroke="#2c2c2c" stroke-width="1"/>
<text x="387.7" y="310.2" font-size="8" text-anchor="middle" font-weight="normal" fill="#111" >anti-IgM</text>
<rect x="367.59999999999997" y="249.7" width="15.600000000000033" height="2.6" fill="#11294a"/>
<line x1="401.2" y1="233.5" x2="401.2" y2="251" stroke="#a3122d" stroke-width="1.0"/>
<line x1="396.8" y1="233.5" x2="405.59999999999997" y2="233.5" stroke="#a3122d" stroke-width="1.05"/>
<line x1="396.8" y1="251" x2="405.59999999999997" y2="251" stroke="#a3122d" stroke-width="1.05"/>
<polygon points="395.65,218.83 399.15,218.83 397.40,221.97" fill="#a3122d"/>
<polygon points="403.25,214.93 406.75,214.93 405.00,218.07" fill="#a3122d"/>
<polygon points="399.45,237.23 402.95,237.23 401.20,240.38" fill="#a3122d"/>
<polygon points="399.45,241.23 402.95,241.23 401.20,244.38" fill="#a3122d"/>
<polygon points="399.45,259.23 402.95,259.23 401.20,262.38" fill="#a3122d"/>
<polygon points="399.45,270.03 402.95,270.03 401.20,273.18" fill="#a3122d"/>
<line x1="375" y1="210.5" x2="399.5" y2="210.5" stroke="#2a2a2a" stroke-width="1.1"/>
<text x="387.25" y="207.8" font-size="8" text-anchor="middle" font-weight="normal" fill="#111" >ns</text>
<text x="343.6" y="355.6" font-size="10" text-anchor="middle" font-weight="normal" fill="#111" >pi-CD19 (Y531)</text>
<g transform="translate(234.0,411.9) rotate(-90)"><text x="0" y="0" font-size="9" font-weight="bold" text-anchor="middle" fill="#222" stroke="none" transform="scale(0.685,1)">Relative protein level</text><text x="0" y="11" font-size="9" font-weight="bold" text-anchor="middle" fill="#222" stroke="none" transform="scale(0.75,1)">(phospho/total)</text></g>
<line x1="268.9" y1="365.75" x2="268.9" y2="442.2" stroke="#2c2c2c" stroke-width="1.4"/>
<line x1="265.29999999999995" y1="368.2" x2="268.9" y2="368.2" stroke="#2c2c2c" stroke-width="1.2"/>
<text x="263.4" y="371.2" font-size="8.3" text-anchor="end" font-weight="normal" fill="#111" letter-spacing="0.35">1.2</text>
<line x1="265.29999999999995" y1="393" x2="268.9" y2="393" stroke="#2c2c2c" stroke-width="1.2"/>
<text x="263.4" y="396.0" font-size="8.3" text-anchor="end" font-weight="normal" fill="#111" letter-spacing="0.35">1.0</text>
<line x1="265.29999999999995" y1="417.6" x2="268.9" y2="417.6" stroke="#2c2c2c" stroke-width="1.2"/>
<text x="263.4" y="420.6" font-size="8.3" text-anchor="end" font-weight="normal" fill="#111" letter-spacing="0.35">0.8</text>
<line x1="266.9" y1="442.2" x2="270.79999999999995" y2="442.2" stroke="#2c2c2c" stroke-width="1.3"/>
<text x="263.4" y="445.2" font-size="8.3" text-anchor="end" font-weight="normal" fill="#111" letter-spacing="0.35">0.6</text>
<line x1="268.9" y1="450.2" x2="268.9" y2="457.8" stroke="#2c2c2c" stroke-width="1.4"/>
<line x1="266.9" y1="450.2" x2="270.79999999999995" y2="450.2" stroke="#2c2c2c" stroke-width="1.3"/>
<line x1="265.7" y1="457.8" x2="329.6" y2="457.8" stroke="#2c2c2c" stroke-width="1.2"/>
<text x="263.4" y="460.8" font-size="8.3" text-anchor="end" font-weight="normal" fill="#111" letter-spacing="0.35">0.0</text>
<rect x="277.4" y="393" width="17.600000000000023" height="49.19999999999999" fill="#8a99c1" />
<rect x="277.4" y="450.59999999999997" width="17.600000000000023" height="7.200000000000022" fill="#8a99c1" />
<rect x="303.8" y="387.7" width="17.0" height="54.5" fill="#e68d82" />
<rect x="303.8" y="450.59999999999997" width="17.0" height="7.200000000000022" fill="#e68d82" />
<line x1="299.1" y1="457.8" x2="299.1" y2="460.8" stroke="#2c2c2c" stroke-width="1"/>
<text x="299.1" y="471.0" font-size="8" text-anchor="middle" font-weight="normal" fill="#111" >unstimulated</text>
<rect x="277.4" y="390.5" width="17.600000000000023" height="4.4" fill="#163763"/>
<rect x="278.06" y="391.60" width="2.2" height="2.2" fill="#f4f8ff"/>
<rect x="281.58" y="391.60" width="2.2" height="2.2" fill="#f4f8ff"/>
<rect x="285.10" y="391.60" width="2.2" height="2.2" fill="#f4f8ff"/>
<rect x="288.62" y="391.60" width="2.2" height="2.2" fill="#f4f8ff"/>
<rect x="292.14" y="391.60" width="2.2" height="2.2" fill="#f4f8ff"/>
<line x1="311.8" y1="380.2" x2="311.8" y2="394.2" stroke="#c41c42" stroke-width="1.0"/>
<line x1="308.0" y1="380.2" x2="315.6" y2="380.2" stroke="#c41c42" stroke-width="1.05"/>
<line x1="308.0" y1="394.2" x2="315.6" y2="394.2" stroke="#c41c42" stroke-width="1.05"/>
<polygon points="306.15,372.94 309.85,372.94 308.00,376.27" fill="none" stroke="#c41c42" stroke-width="1.05" stroke-linejoin="miter"/>
<polygon points="313.75,374.13 317.45,374.13 315.60,377.47" fill="none" stroke="#c41c42" stroke-width="1.05" stroke-linejoin="miter"/>
<polygon points="309.95,378.13 313.65,378.13 311.80,381.47" fill="none" stroke="#c41c42" stroke-width="1.05" stroke-linejoin="miter"/>
<polygon points="309.95,392.83 313.65,392.83 311.80,396.17" fill="none" stroke="#c41c42" stroke-width="1.05" stroke-linejoin="miter"/>
<polygon points="309.95,407.53 313.65,407.53 311.80,410.87" fill="none" stroke="#c41c42" stroke-width="1.05" stroke-linejoin="miter"/>
<line x1="285.9" y1="366.5" x2="310.6" y2="366.5" stroke="#2a2a2a" stroke-width="1.1"/>
<text x="298.25" y="364.7" font-size="8" text-anchor="middle" font-weight="normal" fill="#111" >ns</text>
<line x1="358.2" y1="366.5" x2="358.2" y2="442.2" stroke="#2c2c2c" stroke-width="1.4"/>
<line x1="354.59999999999997" y1="368.8" x2="358.2" y2="368.8" stroke="#2c2c2c" stroke-width="1.2"/>
<text x="352.7" y="371.8" font-size="8.3" text-anchor="end" font-weight="normal" fill="#111" letter-spacing="0.35">1.6</text>
<line x1="354.59999999999997" y1="383.4" x2="358.2" y2="383.4" stroke="#2c2c2c" stroke-width="1.2"/>
<text x="352.7" y="386.4" font-size="8.3" text-anchor="end" font-weight="normal" fill="#111" letter-spacing="0.35">1.4</text>
<line x1="354.59999999999997" y1="398.2" x2="358.2" y2="398.2" stroke="#2c2c2c" stroke-width="1.2"/>
<text x="352.7" y="401.2" font-size="8.3" text-anchor="end" font-weight="normal" fill="#111" letter-spacing="0.35">1.2</text>
<line x1="354.59999999999997" y1="413.0" x2="358.2" y2="413.0" stroke="#2c2c2c" stroke-width="1.2"/>
<text x="352.7" y="416.0" font-size="8.3" text-anchor="end" font-weight="normal" fill="#111" letter-spacing="0.35">1.0</text>
<line x1="354.59999999999997" y1="427.7" x2="358.2" y2="427.7" stroke="#2c2c2c" stroke-width="1.2"/>
<text x="352.7" y="430.7" font-size="8.3" text-anchor="end" font-weight="normal" fill="#111" letter-spacing="0.35">0.8</text>
<line x1="356.2" y1="442.2" x2="360.09999999999997" y2="442.2" stroke="#2c2c2c" stroke-width="1.3"/>
<text x="352.7" y="445.2" font-size="8.3" text-anchor="end" font-weight="normal" fill="#111" letter-spacing="0.35">0.6</text>
<line x1="358.2" y1="450.3" x2="358.2" y2="458.2" stroke="#2c2c2c" stroke-width="1.4"/>
<line x1="356.2" y1="450.3" x2="360.09999999999997" y2="450.3" stroke="#2c2c2c" stroke-width="1.3"/>
<line x1="355.0" y1="458.2" x2="418.2" y2="458.2" stroke="#2c2c2c" stroke-width="1.2"/>
<text x="352.7" y="461.2" font-size="8.3" text-anchor="end" font-weight="normal" fill="#111" letter-spacing="0.35">0.0</text>
<rect x="367.2" y="412" width="16.400000000000034" height="30.19999999999999" fill="#8a99c1" />
<rect x="367.2" y="450.7" width="16.400000000000034" height="7.499999999999977" fill="#8a99c1" />
<rect x="392.6" y="405" width="17.0" height="37.19999999999999" fill="#e68d82" />
<rect x="392.6" y="450.7" width="17.0" height="7.499999999999977" fill="#e68d82" />
<line x1="387.7" y1="458.2" x2="387.7" y2="461.2" stroke="#2c2c2c" stroke-width="1"/>
<text x="387.7" y="471.4" font-size="8" text-anchor="middle" font-weight="normal" fill="#111" >anti-IgM</text>
<rect x="367.59999999999997" y="411.7" width="15.600000000000033" height="2.6" fill="#11294a"/>
<line x1="401" y1="394.7" x2="401" y2="414.3" stroke="#a3122d" stroke-width="1.0"/>
<line x1="396.6" y1="394.7" x2="405.4" y2="394.7" stroke="#a3122d" stroke-width="1.05"/>
<line x1="396.6" y1="414.3" x2="405.4" y2="414.3" stroke="#a3122d" stroke-width="1.05"/>
<polygon points="399.25,371.82 402.75,371.82 401.00,374.97" fill="#a3122d"/>
<polygon points="399.25,394.03 402.75,394.03 401.00,397.18" fill="#a3122d"/>
<polygon points="399.25,400.03 402.75,400.03 401.00,403.18" fill="#a3122d"/>
<polygon points="399.25,420.73 402.75,420.73 401.00,423.88" fill="#a3122d"/>
<polygon points="399.25,428.03 402.75,428.03 401.00,431.18" fill="#a3122d"/>
<line x1="375" y1="368.5" x2="399.2" y2="368.5" stroke="#2a2a2a" stroke-width="1.1"/>
<text x="387.1" y="366.6" font-size="8" text-anchor="middle" font-weight="normal" fill="#111" >ns</text>
<rect x="425.59999999999997" y="463.09999999999997" width="4.2" height="4.2" fill="#fff" stroke="#2a5a8f" stroke-width="1"/>
<text x="433.09999999999997" y="468.0" font-size="7.6" text-anchor="start" font-weight="normal" fill="#111" textLength="16.2" lengthAdjust="spacingAndGlyphs" stroke="none">NSC</text>
<polygon points="425.60,475.21 429.80,475.21 427.70,478.99" fill="none" stroke="#c41c42" stroke-width="1.05" stroke-linejoin="miter"/>
<text x="433.2" y="479.79999999999995" font-size="7.4" text-anchor="start" font-weight="normal" fill="#111" stroke="none">siZAP-70 (unstimulated)</text>
<rect x="425.5" y="487.0" width="4.4" height="4.2" fill="#163763"/>
<text x="433.09999999999997" y="491.8" font-size="7.6" text-anchor="start" font-weight="normal" fill="#111" textLength="16.2" lengthAdjust="spacingAndGlyphs" stroke="none">NSC</text>
<polygon points="425.70,499.10 429.70,499.10 427.70,502.70" fill="#a3122d"/>
<text x="433.2" y="503.59999999999997" font-size="7.4" text-anchor="start" font-weight="normal" fill="#111" stroke="none">siZAP-70 (anti-IgM)</text>
<text x="343.6" y="493.2" font-size="10" text-anchor="middle" font-weight="normal" fill="#111" >pi-SRC (Y416)</text>
<g transform="translate(234.0,554.2) rotate(-90)"><text x="0" y="0" font-size="9" font-weight="bold" text-anchor="middle" fill="#222" stroke="none" transform="scale(0.685,1)">Relative protein level</text><text x="0" y="11" font-size="9" font-weight="bold" text-anchor="middle" fill="#222" stroke="none" transform="scale(0.75,1)">(phospho/total)</text></g>
<line x1="268.9" y1="507.5" x2="268.9" y2="585.1" stroke="#2c2c2c" stroke-width="1.4"/>
<line x1="265.29999999999995" y1="520.8" x2="268.9" y2="520.8" stroke="#2c2c2c" stroke-width="1.2"/>
<text x="263.4" y="523.8" font-size="8.3" text-anchor="end" font-weight="normal" fill="#111" letter-spacing="0.35">1.8</text>
<line x1="265.29999999999995" y1="542.4" x2="268.9" y2="542.4" stroke="#2c2c2c" stroke-width="1.2"/>
<text x="263.4" y="545.4" font-size="8.3" text-anchor="end" font-weight="normal" fill="#111" letter-spacing="0.35">1.4</text>
<line x1="265.29999999999995" y1="563.8" x2="268.9" y2="563.8" stroke="#2c2c2c" stroke-width="1.2"/>
<text x="263.4" y="566.8" font-size="8.3" text-anchor="end" font-weight="normal" fill="#111" letter-spacing="0.35">1.0</text>
<line x1="266.9" y1="585.1" x2="270.79999999999995" y2="585.1" stroke="#2c2c2c" stroke-width="1.3"/>
<text x="263.4" y="588.1" font-size="8.3" text-anchor="end" font-weight="normal" fill="#111" letter-spacing="0.35">0.6</text>
<line x1="268.9" y1="593" x2="268.9" y2="601" stroke="#2c2c2c" stroke-width="1.4"/>
<line x1="266.9" y1="593" x2="270.79999999999995" y2="593" stroke="#2c2c2c" stroke-width="1.3"/>
<line x1="265.7" y1="601" x2="329.6" y2="601" stroke="#2c2c2c" stroke-width="1.2"/>
<text x="263.4" y="604.0" font-size="8.3" text-anchor="end" font-weight="normal" fill="#111" letter-spacing="0.35">0.0</text>
<rect x="277.4" y="563.8" width="17.600000000000023" height="21.300000000000068" fill="#8a99c1" />
<rect x="277.4" y="593.4" width="17.600000000000023" height="7.6" fill="#8a99c1" />
<rect x="303.8" y="547" width="17.0" height="38.10000000000002" fill="#e68d82" />
<rect x="303.8" y="593.4" width="17.0" height="7.6" fill="#e68d82" />
<line x1="299.1" y1="601" x2="299.1" y2="604" stroke="#2c2c2c" stroke-width="1"/>
<text x="299.1" y="614.2" font-size="8" text-anchor="middle" font-weight="normal" fill="#111" >unstimulated</text>
<rect x="277.4" y="561.3" width="17.600000000000023" height="4.4" fill="#163763"/>
<rect x="278.06" y="562.40" width="2.2" height="2.2" fill="#f4f8ff"/>
<rect x="281.58" y="562.40" width="2.2" height="2.2" fill="#f4f8ff"/>
<rect x="285.10" y="562.40" width="2.2" height="2.2" fill="#f4f8ff"/>
<rect x="288.62" y="562.40" width="2.2" height="2.2" fill="#f4f8ff"/>
<rect x="292.14" y="562.40" width="2.2" height="2.2" fill="#f4f8ff"/>
<line x1="312" y1="537" x2="312" y2="556.2" stroke="#c41c42" stroke-width="1.0"/>
<line x1="308.2" y1="537" x2="315.8" y2="537" stroke="#c41c42" stroke-width="1.05"/>
<line x1="308.2" y1="556.2" x2="315.8" y2="556.2" stroke="#c41c42" stroke-width="1.05"/>
<polygon points="310.15,512.63 313.85,512.63 312.00,515.96" fill="none" stroke="#c41c42" stroke-width="1.05" stroke-linejoin="miter"/>
<polygon points="310.15,536.74 313.85,536.74 312.00,540.06" fill="none" stroke="#c41c42" stroke-width="1.05" stroke-linejoin="miter"/>
<polygon points="310.15,542.94 313.85,542.94 312.00,546.26" fill="none" stroke="#c41c42" stroke-width="1.05" stroke-linejoin="miter"/>
<polygon points="306.35,566.74 310.05,566.74 308.20,570.06" fill="none" stroke="#c41c42" stroke-width="1.05" stroke-linejoin="miter"/>
<polygon points="314.35,563.94 318.05,563.94 316.20,567.26" fill="none" stroke="#c41c42" stroke-width="1.05" stroke-linejoin="miter"/>
<line x1="286" y1="507.5" x2="311" y2="507.5" stroke="#2a2a2a" stroke-width="1.1"/>
<text x="298.5" y="505.3" font-size="8" text-anchor="middle" font-weight="normal" fill="#111" >ns</text>
<line x1="358.2" y1="508.8" x2="358.2" y2="585" stroke="#2c2c2c" stroke-width="1.4"/>
<line x1="354.59999999999997" y1="510" x2="358.2" y2="510" stroke="#2c2c2c" stroke-width="1.2"/>
<text x="352.7" y="513.0" font-size="8.3" text-anchor="end" font-weight="normal" fill="#111" letter-spacing="0.35">1.6</text>
<line x1="354.59999999999997" y1="525.3" x2="358.2" y2="525.3" stroke="#2c2c2c" stroke-width="1.2"/>
<text x="352.7" y="528.3" font-size="8.3" text-anchor="end" font-weight="normal" fill="#111" letter-spacing="0.35">1.4</text>
<line x1="354.59999999999997" y1="540.4" x2="358.2" y2="540.4" stroke="#2c2c2c" stroke-width="1.2"/>
<text x="352.7" y="543.4" font-size="8.3" text-anchor="end" font-weight="normal" fill="#111" letter-spacing="0.35">1.2</text>
<line x1="354.59999999999997" y1="555.3" x2="358.2" y2="555.3" stroke="#2c2c2c" stroke-width="1.2"/>
<text x="352.7" y="558.3" font-size="8.3" text-anchor="end" font-weight="normal" fill="#111" letter-spacing="0.35">1.0</text>
<line x1="354.59999999999997" y1="570" x2="358.2" y2="570" stroke="#2c2c2c" stroke-width="1.2"/>
<text x="352.7" y="573.0" font-size="8.3" text-anchor="end" font-weight="normal" fill="#111" letter-spacing="0.35">0.8</text>
<line x1="356.2" y1="585" x2="360.09999999999997" y2="585" stroke="#2c2c2c" stroke-width="1.3"/>
<text x="352.7" y="588.0" font-size="8.3" text-anchor="end" font-weight="normal" fill="#111" letter-spacing="0.35">0.6</text>
<line x1="358.2" y1="593" x2="358.2" y2="600.6" stroke="#2c2c2c" stroke-width="1.4"/>
<line x1="356.2" y1="593" x2="360.09999999999997" y2="593" stroke="#2c2c2c" stroke-width="1.3"/>
<line x1="355.0" y1="600.6" x2="418.2" y2="600.6" stroke="#2c2c2c" stroke-width="1.2"/>
<text x="352.7" y="603.6" font-size="8.3" text-anchor="end" font-weight="normal" fill="#111" letter-spacing="0.35">0.0</text>
<rect x="367.2" y="554.2" width="16.400000000000034" height="30.799999999999955" fill="#8a99c1" />
<rect x="367.2" y="593.4" width="16.400000000000034" height="7.200000000000022" fill="#8a99c1" />
<rect x="392.6" y="544" width="17.0" height="41" fill="#e68d82" />
<rect x="392.6" y="593.4" width="17.0" height="7.200000000000022" fill="#e68d82" />
<line x1="387.7" y1="600.6" x2="387.7" y2="603.6" stroke="#2c2c2c" stroke-width="1"/>
<text x="387.7" y="613.8000000000001" font-size="8" text-anchor="middle" font-weight="normal" fill="#111" >anti-IgM</text>
<rect x="367.59999999999997" y="553.8" width="15.600000000000033" height="2.6" fill="#11294a"/>
<line x1="401" y1="536.5" x2="401" y2="550.4" stroke="#a3122d" stroke-width="1.0"/>
<line x1="396.6" y1="536.5" x2="405.4" y2="536.5" stroke="#a3122d" stroke-width="1.05"/>
<line x1="396.6" y1="550.4" x2="405.4" y2="550.4" stroke="#a3122d" stroke-width="1.05"/>
<polygon points="399.25,524.62 402.75,524.62 401.00,527.78" fill="#a3122d"/>
<polygon points="399.25,528.72 402.75,528.72 401.00,531.88" fill="#a3122d"/>
<polygon points="399.25,541.92 402.75,541.92 401.00,545.08" fill="#a3122d"/>
<polygon points="399.25,547.62 402.75,547.62 401.00,550.78" fill="#a3122d"/>
<polygon points="399.25,552.32 402.75,552.32 401.00,555.48" fill="#a3122d"/>
<polygon points="399.25,561.92 402.75,561.92 401.00,565.08" fill="#a3122d"/>
<line x1="375" y1="509.5" x2="399.5" y2="509.5" stroke="#2a2a2a" stroke-width="1.1"/>
<text x="387.25" y="507.3" font-size="8" text-anchor="middle" font-weight="normal" fill="#111" >ns</text>
<rect x="0.5" y="0.5" width="519" height="623" fill="none" stroke="#4a4a4a" stroke-width="1.3"/>
</svg></body></html>
